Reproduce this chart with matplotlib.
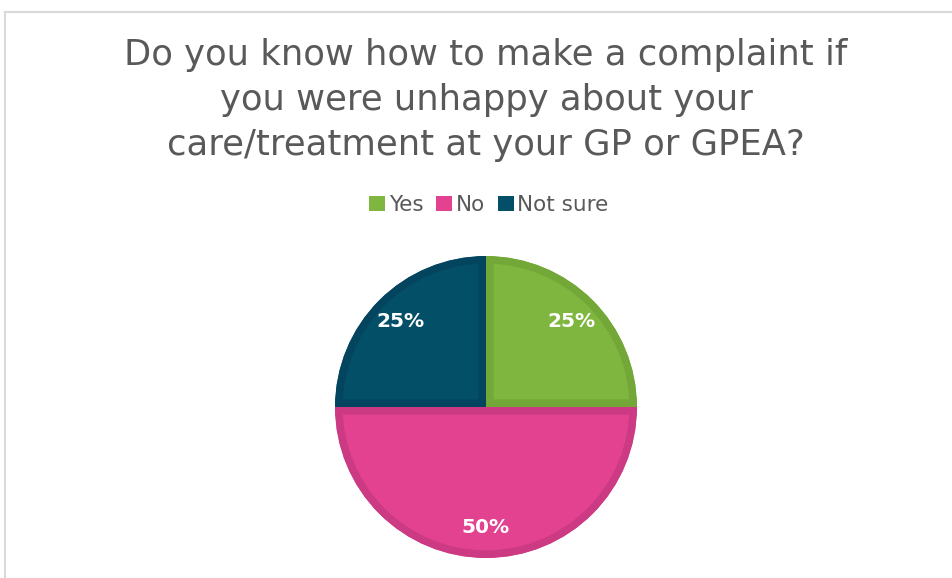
import matplotlib.pyplot as plt
from matplotlib.lines import Line2D
from matplotlib.patches import Patch

labels = ["Yes", "No", "Not sure"]
values = [25, 50, 25]
colors = ["#7FB63F", "#E24290", "#034F68"]
edge_colors = ["#73A838", "#CC3A83", "#03455E"]

title = "Do you know how to make a complaint if\nyou were unhappy about your\ncare/treatment at your GP or GPEA?"

fig = plt.figure(figsize=(9.53, 5.78), dpi=100)
fig.patch.set_facecolor("white")

# light gray frame (top + left only)
fig.add_artist(Line2D([5 / 953, 5 / 953], [0, 1 - 12 / 578], color="#D9D9D9", lw=1.5))
fig.add_artist(Line2D([5 / 953, 1], [1 - 12 / 578, 1 - 12 / 578], color="#D9D9D9", lw=1.5))

fig.text(0.51, 1 - 100 / 578, title, ha="center", va="center", fontsize=25.5,
         color="#595959", linespacing=1.42)

ax = fig.add_axes([0.3515, 0.0346, 0.3169, 0.5225])
wedges, texts, autotexts = ax.pie(
    values, colors=colors, startangle=90, counterclock=False, radius=1,
    autopct="%d%%", pctdistance=0.8,
    wedgeprops=dict(linewidth=11, edgecolor="none"),
    textprops=dict(color="white", fontsize=14.5, fontweight="bold"))
for w, ec in zip(wedges, edge_colors):
    w.set_edgecolor(ec)
    w.set_clip_on(True)
    w.set_clip_path(w)
ax.set_xlim(-1, 1)
ax.set_ylim(-1, 1)
ax.set_aspect("equal")
ax.axis("off")

handles = [Patch(facecolor=c, edgecolor="none") for c in colors]
fig.legend(handles, labels, loc="center", bbox_to_anchor=(0.513, 1 - 205 / 578),
           ncol=3, frameon=False, fontsize=15.5, handlelength=0.75, handleheight=0.75,
           handletextpad=0.15, columnspacing=0.6, labelcolor="#595959")

fig.savefig("out.png", dpi=100, facecolor="white")
